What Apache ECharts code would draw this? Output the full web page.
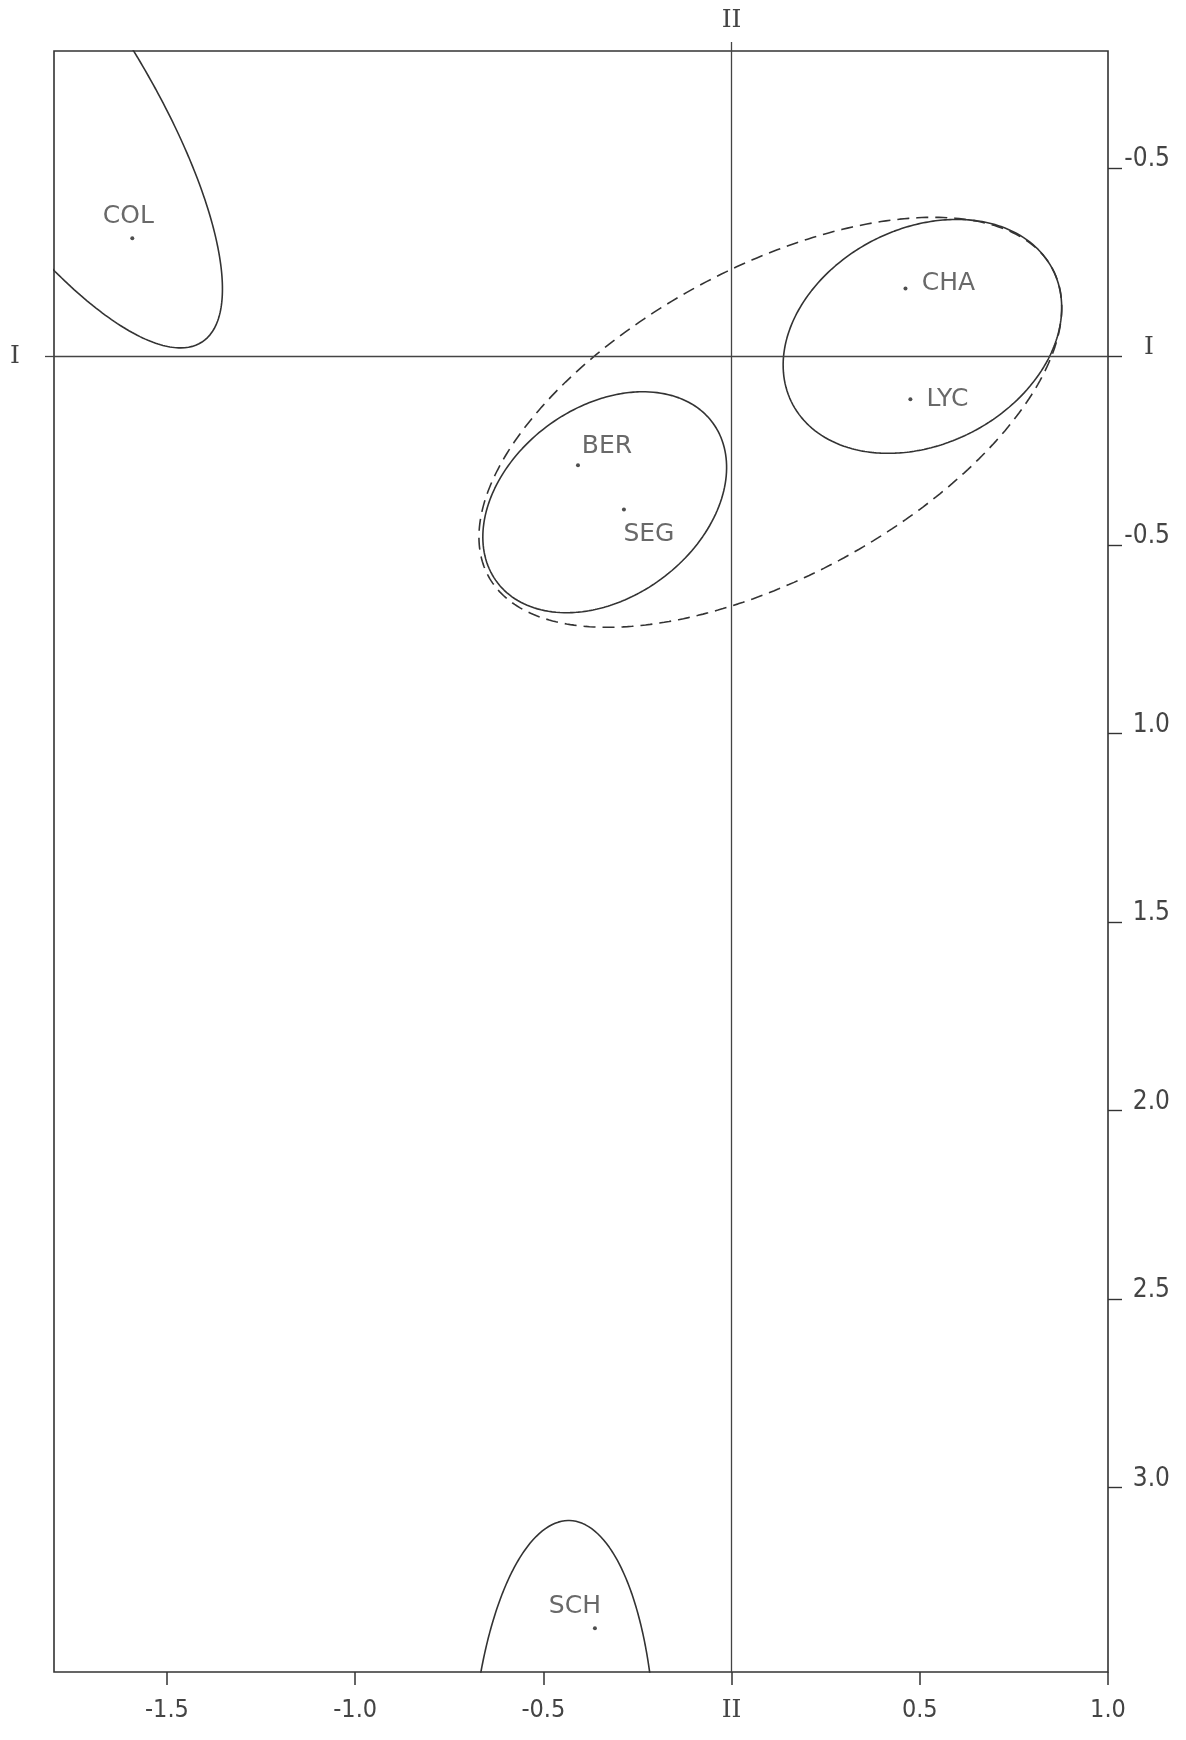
<!DOCTYPE html>
<html>
<head>
<meta charset="utf-8">
<script src="https://cdn.jsdelivr.net/npm/echarts@6/dist/echarts.min.js"></script>
<style>
html,body{margin:0;padding:0;background:#fff;}
#chart{width:1186px;height:1740px;}
</style>
</head>
<body>
<div id="chart"></div>
<script>
// ---- group points (canonical variates I, II) ----
const categories = ['COL', 'CHA', 'LYC', 'BER', 'SEG', 'SCH'];
const pointX = [-1.592, 0.462, 0.475, -0.408, -0.286, -0.363];
const pointY = [-0.313, -0.180, 0.114, 0.289, 0.406, 3.374];

// ---- confidence ellipses ----
const ellipseNames = ['COL', 'CHA-LYC', 'BER-SEG', 'CHA-LYC-BER-SEG', 'SCH'];
const ellipseCX = [-1.849, 0.507, -0.337, 0.103, -0.448];
const ellipseCY = [-0.719, -0.053, 0.387, 0.175, 3.763];
const ellipseA = [0.812, 0.389, 0.356, 0.853, 0.675];
const ellipseB = [0.269, 0.286, 0.253, 0.409, 0.245];
const ellipseAngle = [57, -27.1, -36.2, -28.6, -88.5];
const ellipseDashed = [false, false, false, true, false];

// ---- axis ticks ----
const xTickValues = [-1.5, -1.0, -0.5, 0, 0.5, 1.0];
const xTickLabels = ['-1.5', '-1.0', '-0.5', 'II', '0.5', '1.0'];
const yTickValues = [-0.5, 0, 0.5, 1.0, 1.5, 2.0, 2.5, 3.0];
const yTickLabels = ['-0.5', 'I', '-0.5', '1.0', '1.5', '2.0', '2.5', '3.0'];

// label layout (pixel offsets of the point names)
const labelOffsets = [[-4, -22], [43, -5], [37, 0], [29, -19], [25, 25], [-20, -22]];

const INK = '#333';
const TXT = '#444';
const SANS = "'DejaVu Sans Condensed', 'DejaVu Sans', sans-serif";
const SERIF = "'DejaVu Serif', 'Liberation Serif', serif";

function ellipsePoints(i) {
  const pts = [];
  const phi = ellipseAngle[i] * Math.PI / 180;
  const c = Math.cos(phi), s = Math.sin(phi);
  const n = 360;
  for (let k = 0; k <= n; k++) {
    const t = 2 * Math.PI * k / n;
    const u = ellipseA[i] * Math.cos(t), v = ellipseB[i] * Math.sin(t);
    pts.push([ellipseCX[i] + u * c - v * s, ellipseCY[i] + u * s + v * c]);
  }
  return pts;
}

function lookup(values, labels, v) {
  let best = 0;
  for (let i = 1; i < values.length; i++) {
    if (Math.abs(values[i] - v) < Math.abs(values[best] - v)) best = i;
  }
  return labels[best];
}

const chart = echarts.init(document.getElementById('chart'), null, {renderer: 'canvas'});

const series = [];
ellipseNames.forEach((name, i) => {
  series.push({
    type: 'line',
    name: name,
    data: ellipsePoints(i),
    showSymbol: false,
    symbol: 'none',
    smooth: false,
    clip: true,
    silent: true,
    lineStyle: {color: INK, width: 1.6, type: ellipseDashed[i] ? [12, 7] : 'solid'},
    z: 3
  });
});

series.push({
  type: 'scatter',
  name: 'groups',
  symbolSize: 4,
  itemStyle: {color: '#222'},
  data: categories.map((c, i) => ({
    name: c,
    value: [pointX[i], pointY[i]],
    label: {offset: labelOffsets[i]}
  })),
  label: {
    show: true,
    position: 'inside',
    formatter: p => p.name,
    fontFamily: "'DejaVu Sans', sans-serif",
    fontSize: 25,
    color: TXT
  },
  markLine: {
    silent: true,
    symbol: ['none', 'none'],
    label: {show: false},
    lineStyle: {color: '#444', width: 1.3, type: 'solid'},
    data: [{xAxis: 0}, {yAxis: 0}]
  },
  z: 5
});

const option = {
  animation: false,
  backgroundColor: '#fff',
  grid: {left: 54, right: 78, top: 51, bottom: 68, show: true, borderColor: INK, borderWidth: 1.6, backgroundColor: 'transparent'},
  xAxis: [
    {
      type: 'value', min: -1.8, max: 1.0, position: 'bottom',
      axisLine: {show: false, onZero: false}, splitLine: {show: false},
      axisTick: {show: true, length: 13, lineStyle: {color: INK, width: 1.5}, customValues: xTickValues},
      axisLabel: {
        customValues: xTickValues, margin: 26, fontSize: 25, fontFamily: SANS, color: TXT,
        formatter: v => { const l = lookup(xTickValues, xTickLabels, v); return l === 'II' ? '{s|II}' : l; },
        rich: {s: {fontFamily: SERIF, fontSize: 25, color: TXT}}
      }
    },
    {
      type: 'value', min: -1.8, max: 1.0, position: 'top',
      axisLine: {show: false, onZero: false}, splitLine: {show: false},
      axisTick: {show: true, length: 9, lineStyle: {color: '#444', width: 1.3}, customValues: [0]},
      axisLabel: {customValues: [0], margin: 18, fontSize: 25, fontFamily: SERIF, color: TXT, formatter: () => 'II'}
    }
  ],
  yAxis: [
    {
      type: 'value', inverse: true, min: -0.81, max: 3.49, position: 'right',
      axisLine: {show: false, onZero: false}, splitLine: {show: false},
      axisTick: {show: true, length: 14, lineStyle: {color: INK, width: 1.4}, customValues: yTickValues},
      axisLabel: {
        customValues: yTickValues, margin: 62, align: 'right', padding: [0, 0, 17, 0],
        fontSize: 26, fontFamily: SANS, color: TXT,
        formatter: v => { const l = lookup(yTickValues, yTickLabels, v); return l === 'I' ? '{s|I}' : l; },
        rich: {s: {fontFamily: SERIF, fontSize: 25, color: TXT, padding: [0, 16, 0, 0]}}
      }
    },
    {
      type: 'value', inverse: true, min: -0.81, max: 3.49, position: 'left',
      axisLine: {show: false, onZero: false}, splitLine: {show: false},
      axisTick: {show: true, length: 9, lineStyle: {color: '#444', width: 1.3}, customValues: [0]},
      axisLabel: {customValues: [0], margin: 34, padding: [0, 0, 8, 0], fontSize: 25, fontFamily: SERIF, color: TXT, formatter: () => 'I'}
    }
  ],
  series: series
};

chart.setOption(option);
</script>
</body>
</html>
